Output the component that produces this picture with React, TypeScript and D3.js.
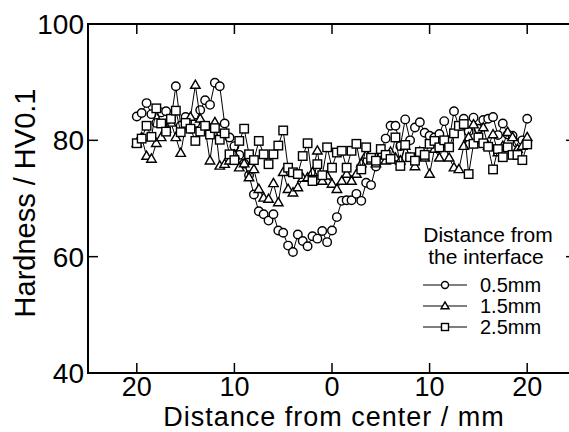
import * as d3 from 'd3'

// distance from center (mm), left half is shown as positive labels
const distance = [
    -20, -19.5, -19, -18.5, -18, -17.5, -17, -16.5, -16, -15.5,
    -15, -14.5, -14, -13.5, -13, -12.5, -12, -11.5, -11, -10.5,
    -10, -9.5, -9, -8.5, -8, -7.5, -7, -6.5, -6, -5.5,
    -5, -4.5, -4, -3.5, -3, -2.5, -2, -1.5, -1, -0.5,
    0, 0.5, 1, 1.5, 2, 2.5, 3, 3.5, 4, 4.5,
    5, 5.5, 6, 6.5, 7, 7.5, 8, 8.5, 9, 9.5,
    10, 10.5, 11, 11.5, 12, 12.5, 13, 13.5, 14, 14.5,
    15, 15.5, 16, 16.5, 17, 17.5, 18, 18.5, 19, 19.5, 20
]

const hv05 = [
    84.1, 84.7, 86.4, 84.5, 83.0, 84.8, 85.0, 83.5, 89.3, 82.5,
    84.0, 82.0, 83.0, 85.2, 86.9, 86.1, 89.9, 89.3, 82.9, 80.5,
    79.0, 77.5, 76.0, 74.0, 70.7, 67.8, 67.3, 66.2, 67.3, 64.5,
    64.1, 61.9, 60.8, 63.8, 62.7, 61.8, 63.5, 63.1, 64.4, 62.5,
    64.5, 66.8, 69.6, 69.7, 69.7, 70.8, 69.6, 72.7, 72.3, 75.5,
    78.0, 80.3, 82.5, 82.5, 79.0, 83.6, 80.0, 82.2, 83.1, 81.3,
    80.8, 80.5, 81.1, 83.3, 80.0, 85.0, 82.4, 83.7, 81.5, 83.9,
    82.0, 83.5, 83.7, 84.0, 80.9, 82.9, 81.0, 80.8, 79.5, 80.0, 83.7
]

const hv15 = [
    79.5, 80.5, 77.3, 76.8, 79.5, 80.5, 82.0, 83.0, 80.5, 77.8,
    82.5, 84.0, 89.5, 83.7, 82.0, 76.5, 83.1, 75.6, 75.9, 76.5,
    77.5, 75.3, 76.0, 73.6, 75.0, 71.6, 70.1, 69.9, 72.6, 69.3,
    74.5, 71.6, 71.0, 71.9, 73.5, 73.6, 74.5, 78.2, 73.0, 73.9,
    72.5, 71.6, 73.0, 74.2, 73.0, 74.2, 76.0, 77.5, 76.5, 76.0,
    77.5, 76.5, 78.0, 77.0, 76.5, 79.0, 77.0, 75.5, 78.0, 77.0,
    74.2, 78.5, 77.0, 79.5, 77.0, 75.3, 75.0, 79.0, 80.5, 82.7,
    80.0, 82.2, 79.0, 81.0, 77.9, 79.0, 81.4, 80.5, 78.5, 79.0, 80.5
]

const hv25 = [
    79.5, 80.3, 82.5, 80.6, 85.5, 82.9, 81.5, 83.7, 85.1, 81.4,
    83.0, 82.0, 79.9, 81.5, 82.5, 81.0, 82.1, 80.1, 81.2, 77.6,
    76.6, 79.9, 82.0, 77.6, 76.6, 79.9, 77.6, 75.9, 77.6, 79.1,
    81.7, 75.3, 74.5, 74.2, 77.3, 79.5, 73.0, 75.9, 74.0, 78.8,
    75.3, 77.9, 78.2, 75.3, 78.2, 79.4, 75.0, 78.8, 77.0, 76.5,
    78.5, 77.5, 76.8, 80.5, 75.6, 79.2, 77.1, 76.5, 78.0, 77.5,
    79.4, 79.9, 78.8, 80.0, 78.8, 81.2, 82.5, 82.8, 74.2, 79.4,
    80.5, 79.5, 78.9, 75.0, 78.5, 77.1, 78.8, 77.5, 77.5, 76.6, 79.3
]

const seriesNames = ['0.5mm', '1.5mm', '2.5mm']
const xTicks = [-20, -10, 0, 10, 20]
const yTicks = [40, 60, 80, 100]

const font = '"Liberation Sans", Arial, Helvetica, sans-serif'

function Marker({ kind, x, y, s }) {
    if (kind === 0) {
        return <circle cx={x} cy={y} r={s / 2} fill="white" stroke="black" strokeWidth={1.4} />
    }
    if (kind === 1) {
        const path = d3.symbol(d3.symbolTriangle, (s * s * Math.sqrt(3)) / 4)()
        return <path d={path} transform={`translate(${x},${y + 0.5})`} fill="white" stroke="black" strokeWidth={1.4} />
    }
    return <rect x={x - s / 2} y={y - s / 2} width={s} height={s} fill="white" stroke="black" strokeWidth={1.4} />
}

export default function App() {
    const width = 569
    const height = 432
    const margin = { left: 88, top: 24, right: 576, bottom: 373 }

    const x = d3.scaleLinear().domain([-25, 25]).range([margin.left, margin.right])
    const y = d3.scaleLinear().domain([40, 100]).range([margin.bottom, margin.top])

    const line = d3.line<number>()
        .x((_, i) => x(distance[i]))
        .y(d => y(d))

    const allSeries = [hv05, hv15, hv25]
    const markerSize = [8.5, 9.5, 8.5]

    return (
        <svg width={width} height={height} style={{ position: 'absolute', left: 0, top: 0, background: 'white' }}>
            {/* data */}
            {allSeries.map((values, k) => (
                <g key={k}>
                    <path d={line(values)} fill="none" stroke="black" strokeWidth={1} />
                    {values.map((v, i) => (
                        <Marker key={i} kind={k} x={x(distance[i])} y={y(v)} s={markerSize[k]} />
                    ))}
                </g>
            ))}

            {/* frame */}
            <rect x={margin.left} y={margin.top} width={margin.right - margin.left} height={margin.bottom - margin.top}
                fill="none" stroke="black" strokeWidth={2} />
            {xTicks.map(t => (
                <g key={t}>
                    <line x1={x(t)} x2={x(t)} y1={margin.bottom} y2={margin.bottom - 10} stroke="black" strokeWidth={1.5} />
                    <line x1={x(t)} x2={x(t)} y1={margin.top} y2={margin.top + 10} stroke="black" strokeWidth={1.5} />
                    <text x={x(t)} y={396} textAnchor="middle" fontFamily={font} fontSize={27}>{Math.abs(t)}</text>
                </g>
            ))}
            {yTicks.map(t => (
                <g key={t}>
                    <line x1={margin.left} x2={margin.left + 10} y1={y(t)} y2={y(t)} stroke="black" strokeWidth={1.5} />
                    <line x1={margin.right} x2={margin.right - 10} y1={y(t)} y2={y(t)} stroke="black" strokeWidth={1.5} />
                    <text x={84} y={y(t)} dy="0.36em" textAnchor="end" fontFamily={font} fontSize={28}>{t}</text>
                </g>
            ))}

            {/* axis titles */}
            <text x={334} y={426.2} textAnchor="middle" fontFamily={font} fontSize={27} letterSpacing={1}>Distance from center / mm</text>
            <text transform="translate(34.5,203) rotate(-90)" textAnchor="middle" fontFamily={font} fontSize={29}>Hardness / HV0.1</text>

            {/* legend */}
            <text x={488} y={242} textAnchor="middle" fontFamily={font} fontSize={21}>Distance from</text>
            <text x={486} y={264} textAnchor="middle" fontFamily={font} fontSize={21}>the interface</text>
            {seriesNames.map((name, k) => {
                const ly = 285 + k * 21
                return (
                    <g key={name}>
                        <line x1={423} x2={467} y1={ly} y2={ly} stroke="black" strokeWidth={1} />
                        <Marker kind={k} x={445} y={ly} s={k === 1 ? 8 : 7} />
                        <text x={480} y={ly + 7} fontFamily={font} fontSize={20}>{name}</text>
                    </g>
                )
            })}
        </svg>
    )
}
